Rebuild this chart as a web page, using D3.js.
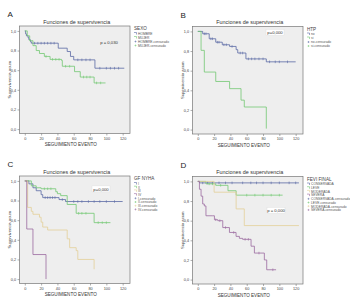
<!DOCTYPE html>
<html><head><meta charset="utf-8">
<script src="https://cdn.jsdelivr.net/npm/d3@7"></script>
<style>
html,body{margin:0;padding:0;background:#fff;}
svg{display:block;font-family:"Liberation Sans",Arial,sans-serif;}
</style></head>
<body><svg id="c" width="350" height="304"></svg>
<script>
// ---------- shared ticks ----------
const xTicks = [0, 20, 40, 60, 80, 100, 120];
const yTicks = [0, 0.2, 0.4, 0.6, 0.8, 1.0];
const yTickLabels = ["0,0", "0,2", "0,4", "0,6", "0,8", "1,0"];

// ---------- Panel A : SEXO ----------
const A_groups = ["HOMBRE", "MUJER"];
const A_t1 = [0, 1, 2, 4, 5, 7, 8, 41, 52, 56, 60, 86, 122];
const A_s1 = [1, 0.97, 0.95, 0.93, 0.91, 0.89, 0.875, 0.824, 0.79, 0.74, 0.705, 0.62, 0.62];
const A_c1 = [12, 16, 20, 24, 28, 32, 36, 65, 70, 75, 80, 92, 100, 105, 110, 115];
const A_t2 = [0, 3, 6, 10, 14, 18, 24, 31, 45, 46, 61, 68, 85, 99];
const A_s2 = [1, 0.95, 0.9, 0.85, 0.8, 0.77, 0.74, 0.71, 0.70, 0.64, 0.585, 0.53, 0.47, 0.47];
const A_c2 = [26, 34, 38, 42, 50, 55, 72, 76, 80, 88, 93];

// ---------- Panel B : HTP ----------
const B_groups = ["no", "si"];
const B_t1 = [0, 6, 14, 22, 30, 39, 47, 49, 59, 84, 120];
const B_s1 = [1, 0.976, 0.925, 0.89, 0.864, 0.847, 0.814, 0.78, 0.72, 0.69, 0.69];
const B_c1 = [8, 10, 16, 18, 24, 26, 32, 35, 42, 52, 55, 62, 66, 70, 75, 80, 88, 95, 100, 110];
const B_t2 = [0, 4, 8, 22, 39, 53, 57, 84];
const B_s2 = [1, 0.807, 0.586, 0.49, 0.417, 0.30, 0.23, 0.01];
const B_c2 = [];

// ---------- Panel C : GF NYHA ----------
const C_groups = ["I", "II", "III", "IV"];
const C_t1 = [0, 5, 10, 14, 20, 22, 42, 50, 120];
const C_s1 = [1, 0.97, 0.93, 0.9, 0.86, 0.83, 0.81, 0.79, 0.79];
const C_c1 = [25, 28, 31, 34, 37, 46, 60, 65, 70, 78, 85, 92, 100, 110];
const C_t2 = [0, 8, 14, 20, 38, 40, 44, 52, 63, 85, 105];
const C_s2 = [1, 0.95, 0.93, 0.92, 0.89, 0.87, 0.85, 0.76, 0.67, 0.575, 0.575];
const C_c2 = [24, 28, 32, 66, 70, 75, 90, 95, 100];
const C_t3 = [0, 3.5, 8, 10, 18, 20, 22, 28, 52, 55, 63, 65, 85];
const C_s3 = [1, 0.73, 0.69, 0.66, 0.63, 0.58, 0.53, 0.50, 0.41, 0.32, 0.29, 0.20, 0.10];
const C_c3 = [];
const C_t4 = [0, 2.4, 10, 26];
const C_s4 = [1, 0.51, 0.25, 0.0];
const C_c4 = [];

// ---------- Panel D : FEVI FINAL ----------
const D_groups = ["CONSERVADA", "LEVE", "MODERADA", "SEVERA"];
const D_t1 = [0, 2, 124];
const D_s1 = [1, 0.985, 0.985];
const D_c1 = [6, 12, 18, 26, 34, 42, 55, 65, 72, 80, 90, 100, 112, 120];
const D_t2 = [0, 10, 22, 37, 47, 104];
const D_s2 = [1, 0.975, 0.96, 0.905, 0.86, 0.86];
const D_c2 = [14, 18, 28, 60, 70, 80, 90, 100];
const D_t3 = [0, 20, 47, 57, 124];
const D_s3 = [1, 0.89, 0.72, 0.55, 0.55];
const D_c3 = [];
const D_t4 = [0, 2, 4, 6, 8, 10, 18.4, 20.4, 24.5, 30.6, 38.8, 46.9, 51, 55, 65.3, 69.4, 81.6, 84.5, 96];
const D_s4 = [1, 0.92, 0.85, 0.77, 0.75, 0.65, 0.65, 0.61, 0.60, 0.53, 0.48, 0.44, 0.42, 0.41, 0.34, 0.27, 0.20, 0.10, 0.10];
const D_c4 = [22, 27, 34, 44, 58, 62, 75, 92];

const colors = ["#5a6aa4", "#72c872", "#e3cf98", "#9a6aa0"];

// ---------- layout ----------
const panels = [
  {letter:"A", lx:19.5, ty:26, legTitle:"SEXO", groups:A_groups, p:"p = 0,030", pbox:false, px:109, py:42.5,
   series:[[A_t1,A_s1,A_c1],[A_t2,A_s2,A_c2]]},
  {letter:"B", lx:192.5, ty:26.5, legTitle:"HTP", groups:B_groups, p:"p=0,000", pbox:true, px:275, py:33,
   series:[[B_t1,B_s1,B_c1],[B_t2,B_s2,B_c2]]},
  {letter:"C", lx:19.5, ty:176, legTitle:"GF NYHA", groups:C_groups, p:"p=0,000", pbox:true, px:101, py:189.5,
   series:[[C_t1,C_s1,C_c1],[C_t2,C_s2,C_c2],[C_t3,C_s3,C_c3],[C_t4,C_s4,C_c4]]},
  {letter:"D", lx:192.5, ty:176.5, legTitle:"FEVI FINAL", groups:D_groups, p:"p = 0,000", pbox:true, px:276, py:211,
   series:[[D_t1,D_s1,D_c1],[D_t2,D_s2,D_c2],[D_t3,D_s3,D_c3],[D_t4,D_s4,D_c4]]}
];
const PW = 110.5, PH = 107.5;

const svg = d3.select("#c");

function survAt(t, s, c) {
  let v = s[0];
  for (let i = 0; i < t.length; i++) if (t[i] <= c) v = s[i];
  return v;
}

panels.forEach(P => {
  const g = svg.append("g").attr("transform", `translate(${P.lx},${P.ty})`);
  const x = d3.scaleLinear().domain([-6.5, 129]).range([0, PW]);
  const y = d3.scaleLinear().domain([-0.045, 1.05]).range([PH, 0]);

  // panel letter
  svg.append("text").attr("x", P.lx - 12).attr("y", P.ty - 9).attr("font-size", 8)
    .attr("fill", "#222").text(P.letter);
  // title
  svg.append("text").attr("x", P.lx + PW / 2 + 2).attr("y", P.ty - 2.5).attr("text-anchor", "middle")
    .attr("font-size", 5.4).attr("fill", "#333").text("Funciones de supervivencia");

  // plot background
  g.append("rect").attr("width", PW).attr("height", PH).attr("fill", "#eeeeee")
    .attr("stroke", "#777").attr("stroke-width", 0.7);

  // axes
  const xa = g.append("g").attr("transform", `translate(0,${PH})`)
    .call(d3.axisBottom(x).tickValues(xTicks).tickSize(2).tickPadding(1.5));
  const ya = g.append("g")
    .call(d3.axisLeft(y).tickValues(yTicks).tickSize(2).tickPadding(1.5)
      .tickFormat((d, i) => yTickLabels[i]));
  [xa, ya].forEach(a => {
    a.select(".domain").remove();
    a.selectAll("line").attr("stroke", "#777").attr("stroke-width", 0.6);
    a.selectAll("text").attr("font-size", 3.8).attr("fill", "#444")
      .attr("font-family", "'Liberation Sans',Arial,sans-serif");
  });

  // axis titles
  g.append("text").attr("x", PW / 2 - 4).attr("y", PH + 12.5).attr("text-anchor", "middle")
    .attr("font-size", 4.6).attr("fill", "#333").text("SEGUIMIENTO EVENTO");
  g.append("text").attr("transform", `translate(-8.5,${PH / 2}) rotate(-90)`).attr("text-anchor", "middle")
    .attr("font-size", 4.2).attr("fill", "#444").text("Supervivencia acum");

  // curves
  const line = d3.line().x(d => x(d[0])).y(d => y(d[1])).curve(d3.curveStepAfter);
  P.series.forEach((S, k) => {
    const [t, s, c] = S;
    const pts = t.map((v, i) => [v, s[i]]);
    g.append("path").attr("d", line(pts)).attr("fill", "none")
      .attr("stroke", colors[k]).attr("stroke-width", 0.8);
    c.forEach(ct => {
      const cy = y(survAt(t, s, ct));
      g.append("line").attr("x1", x(ct)).attr("x2", x(ct)).attr("y1", cy - 1.3).attr("y2", cy + 1.3)
        .attr("stroke", colors[k]).attr("stroke-width", 0.6);
    });
  });

  // p value
  if (P.pbox) {
    svg.append("rect").attr("x", P.px - 9).attr("y", P.py - 3.6).attr("width", 18).attr("height", 6)
      .attr("fill", "#fff").attr("stroke", "#ddd").attr("stroke-width", 0.4);
  }
  svg.append("text").attr("x", P.px).attr("y", P.py + 1.3).attr("text-anchor", "middle")
    .attr("font-size", 4.2).attr("fill", "#333").text(P.p);

  // legend
  const lg = svg.append("g").attr("transform", `translate(${P.lx + PW + 4},${P.ty + 4})`);
  lg.append("text").attr("x", 0).attr("y", 0).attr("font-size", 4.6).attr("fill", "#444").text(P.legTitle);
  const n = P.groups.length;
  const step = n > 2 ? 3.7 : 4;
  const items = P.groups.map((gname, k) => ({label: gname, k, cens: false}))
    .concat(P.groups.map((gname, k) => ({label: gname + "-censurado", k, cens: true})));
  items.forEach((it, i) => {
    const yy = 4 + i * step;
    if (!it.cens) {
      lg.append("path").attr("d", `M0,${yy - 1.5}H2.5V${yy + 0.5}`).attr("fill", "none")
        .attr("stroke", colors[it.k]).attr("stroke-width", 0.6);
    } else {
      lg.append("path").attr("d", `M0.5,${yy - 0.5}H2.5M1.5,${yy - 1.5}V${yy + 0.5}`).attr("fill", "none")
        .attr("stroke", colors[it.k]).attr("stroke-width", 0.5);
    }
    lg.append("text").attr("x", 4).attr("y", yy + 0.8).attr("font-size", 3.3).attr("fill", "#555").text(it.label);
  });
});
</script></body></html>
